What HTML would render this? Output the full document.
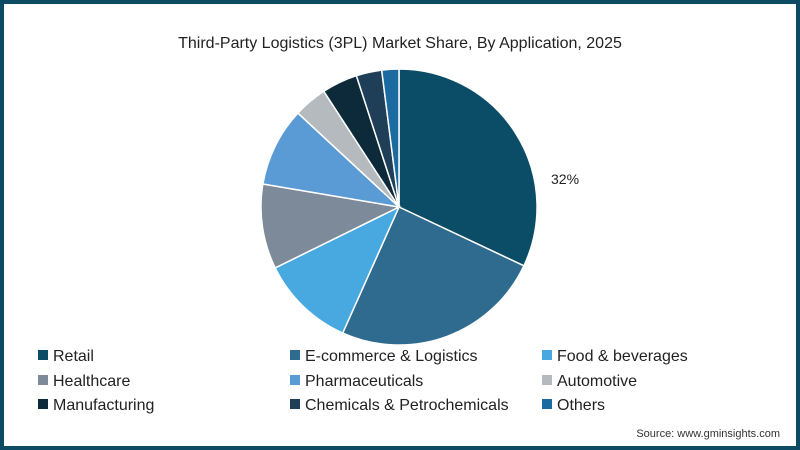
<!DOCTYPE html>
<html><head><meta charset="utf-8"><style>
html,body{margin:0;padding:0}
body{width:800px;height:450px;overflow:hidden;font-family:"Liberation Sans",sans-serif}
.f{position:absolute;left:0;top:0;width:792px;height:442px;border:4px solid #0d4a63;background:#fff}
</style></head><body>
<div class="f"></div>
<svg width="800" height="450" style="position:absolute;left:0;top:0" font-family="Liberation Sans, sans-serif">
<text x="400" y="48" text-anchor="middle" font-size="16" fill="#222">Third-Party Logistics (3PL) Market Share, By Application, 2025</text>
<g stroke="#fff" stroke-width="1.5">
<path d="M399,207 L399,69 A138,138 0 0 1 523.9,265.8Z" fill="#0b4d66"/>
<path d="M399,207 L523.9,265.8 A138,138 0 0 1 342.7,333Z" fill="#2e6b8f"/>
<path d="M399,207 L342.7,333 A138,138 0 0 1 275.2,267.9Z" fill="#47a9df"/>
<path d="M399,207 L275.2,267.9 A138,138 0 0 1 262.9,184Z" fill="#7d8a99"/>
<path d="M399,207 L262.9,184 A138,138 0 0 1 297.9,113.1Z" fill="#5b9bd5"/>
<path d="M399,207 L297.9,113.1 A138,138 0 0 1 323.8,91.3Z" fill="#b5babf"/>
<path d="M399,207 L323.8,91.3 A138,138 0 0 1 356.4,75.7Z" fill="#0d2a3a"/>
<path d="M399,207 L356.4,75.7 A138,138 0 0 1 381.7,70.1Z" fill="#1f3f58"/>
<path d="M399,207 L381.7,70.1 A138,138 0 0 1 399,69Z" fill="#1b6aa0"/>
</g>
<text x="551" y="184" font-size="14" fill="#222">32%</text>
<g font-size="16" fill="#222">
<rect x="38" y="350" width="10" height="10" fill="#0b4d66"/><text x="53" y="361">Retail</text>
<rect x="290" y="350" width="10" height="10" fill="#2e6b8f"/><text x="305" y="361">E-commerce &amp; Logistics</text>
<rect x="542" y="350" width="10" height="10" fill="#47a9df"/><text x="557" y="361">Food &amp; beverages</text>
<rect x="38" y="375" width="10" height="10" fill="#7d8a99"/><text x="53" y="386">Healthcare</text>
<rect x="290" y="375" width="10" height="10" fill="#5b9bd5"/><text x="305" y="386">Pharmaceuticals</text>
<rect x="542" y="375" width="10" height="10" fill="#b5babf"/><text x="557" y="386">Automotive</text>
<rect x="38" y="399" width="10" height="10" fill="#0d2a3a"/><text x="53" y="410">Manufacturing</text>
<rect x="290" y="399" width="10" height="10" fill="#1f3f58"/><text x="305" y="410">Chemicals &amp; Petrochemicals</text>
<rect x="542" y="399" width="10" height="10" fill="#1b6aa0"/><text x="557" y="410">Others</text>
</g>
<text x="780" y="437" text-anchor="end" font-size="11" fill="#333">Source: www.gminsights.com</text>
</svg>
</body></html>
